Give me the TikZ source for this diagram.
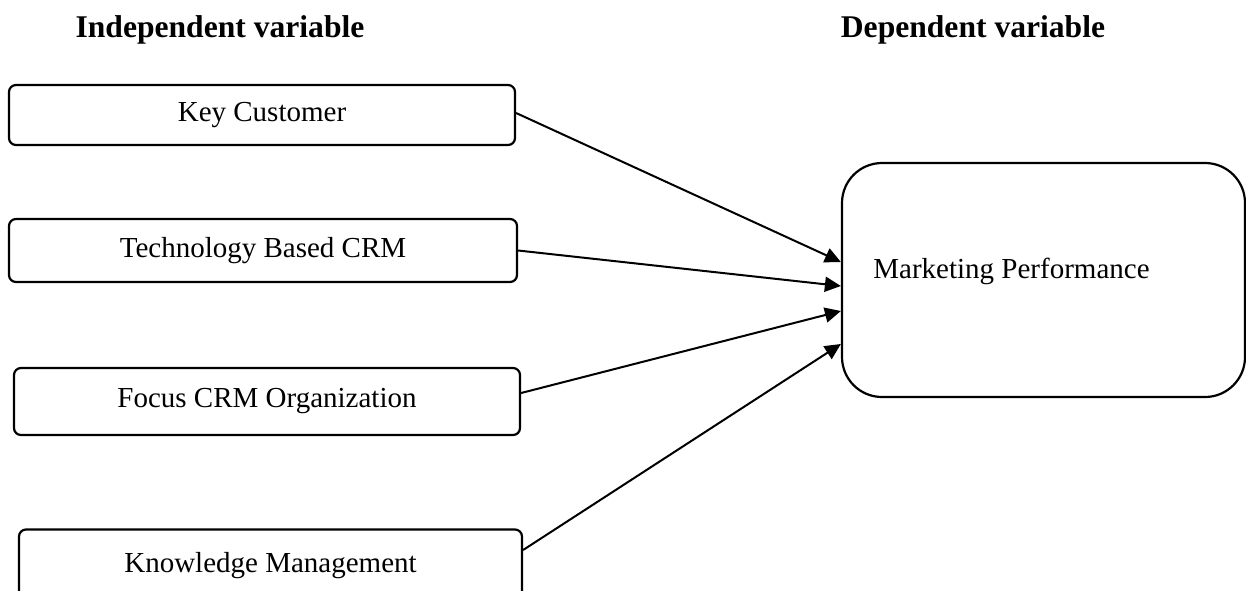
\documentclass[tikz,border=0pt]{standalone}
\usepackage{fontspec}
\setmainfont{Liberation Serif}
\usetikzlibrary{arrows.meta}
\begin{document}
\begin{tikzpicture}[x=0.5pt,y=-0.5pt,
  varbox/.style={draw, line width=1.1pt, rounded corners=3.5pt, minimum width=253pt, align=center, font=\fontsize{14.5}{17}\selectfont},
  headtext/.style={anchor=base, inner sep=0pt, font=\fontsize{15.8}{18}\selectfont\bfseries},
  link/.style={line width=1pt, -{Triangle[length=8pt,width=7.5pt]}}]
\useasboundingbox (0,0) rectangle (1246,590);
\node[headtext] (indep) at (220,37) {Independent variable};
\node[headtext] (dep) at (973,37) {Dependent variable};
\node[varbox, minimum height=30pt] (key) at (262,115) {Key Customer};
\node[varbox, minimum height=31.5pt, minimum width=254pt] (tech) at (263,250.5) {Technology Based CRM};
\node[varbox, minimum height=33.5pt] (focus) at (267,401.5) {Focus CRM Organization};
\node[varbox, minimum height=36.5pt, minimum width=251.5pt] (know) at (270.5,566) {Knowledge Management};
\node[draw, line width=1.1pt, rounded corners=20pt, minimum width=201.5pt, minimum height=117pt] (mp) at (1043.5,280) {};
\node[anchor=base west, inner sep=0pt, font=\fontsize{14.5}{17}\selectfont] (mptext) at (873,278) {Marketing Performance};
\draw[link] ([yshift=1pt]key.east) -- ([yshift=9pt]mp.west);
\draw[link] (tech.east) -- ([yshift=-3pt]mp.west);
\draw[link] ([yshift=4.25pt]focus.east) -- ([yshift=-15.5pt]mp.west);
\draw[link] ([yshift=8pt]know.east) -- ([yshift=-32pt]mp.west);
\end{tikzpicture}
\end{document}
